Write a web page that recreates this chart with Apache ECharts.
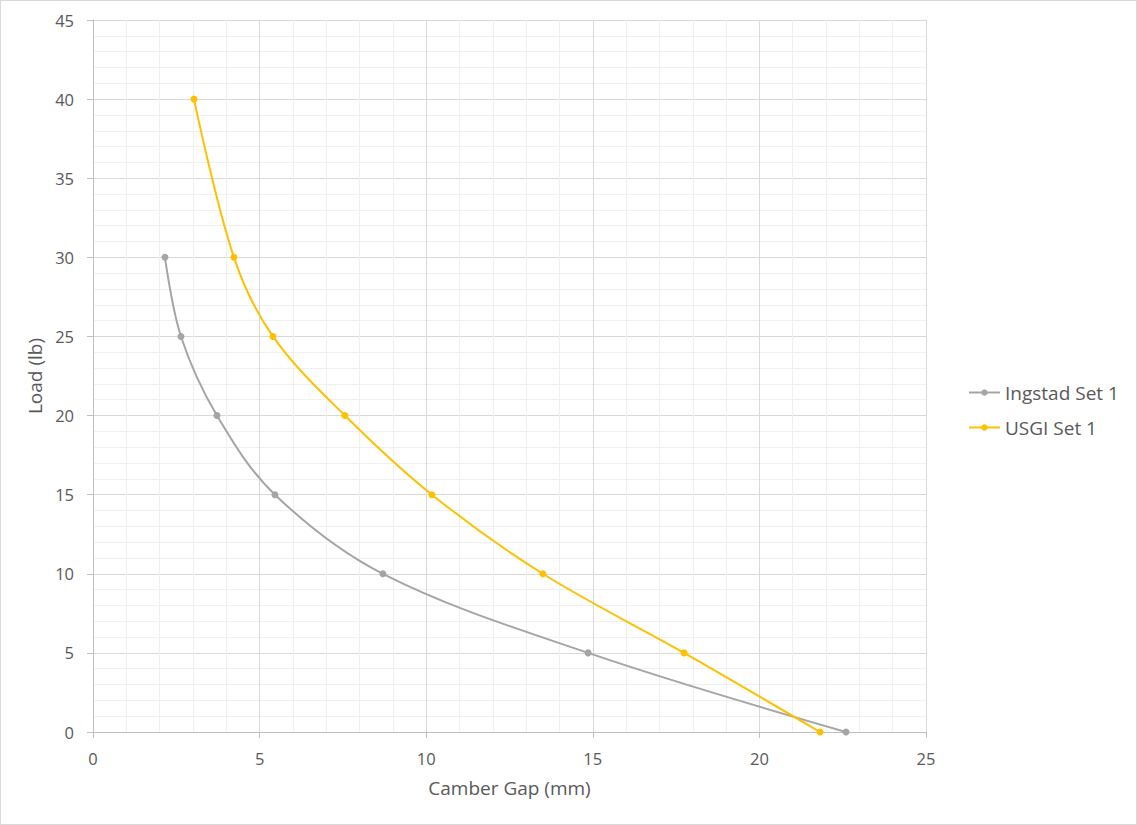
<!DOCTYPE html>
<html>
<head>
<meta charset="utf-8">
<script src="https://cdn.jsdelivr.net/npm/echarts@6/dist/echarts.min.js"></script>
<style>
  html, body { margin: 0; padding: 0; background: #fff; }
  #chart { width: 1137px; height: 825px; box-sizing: border-box; border: 1px solid #d9d9d9; }
</style>
</head>
<body>
<div id="chart"></div>
<script>
// values
const ingstadGap  = [22.6, 14.86, 8.7, 5.46, 3.72, 2.64, 2.16];
const ingstadLoad = [0, 5, 10, 15, 20, 25, 30];
const usgiGap  = [21.82, 17.74, 13.5, 10.17, 7.56, 5.4, 4.23, 3.03];
const usgiLoad = [0, 5, 10, 15, 20, 25, 30, 40];

const GRAY = '#A5A5A5';
const GOLD = '#FFC000';
const FONT = 'Open Sans';

const pairs = (xs, ys) => xs.map((x, i) => [x, ys[i]]);

const AXIS = {
  axisLine:  { lineStyle: { color: '#BFBFBF', width: 1 } },
  axisTick:  { show: true, length: 6, lineStyle: { color: '#BFBFBF' } },
  axisLabel: { color: '#595959', fontFamily: FONT, fontSize: 16.5 },
  splitLine: { show: true, lineStyle: { color: '#D9D9D9', width: 1 } },
  minorTick: { show: false, splitNumber: 5 },
  minorSplitLine: { show: true, lineStyle: { color: '#F0F0F0', width: 1 } },
  nameTextStyle: { color: '#595959', fontFamily: FONT, fontSize: 19 },
};

const c = echarts.init(document.getElementById('chart'), null, { renderer: 'svg' });
c.setOption({
  animation: false,
  grid: { left: 92, right: 210, top: 19, bottom: 92 },
  legend: {
    orient: 'vertical', left: 962, top: 377, itemGap: 16,
    itemWidth: 31, itemHeight: 8,
    textStyle: { color: '#595959', fontFamily: FONT, fontSize: 19 },
    data: ['Ingstad Set 1', 'USGI Set 1'],
  },
  xAxis: {
    ...AXIS, type: 'value', min: 0, max: 25, interval: 5,
    name: 'Camber Gap (mm)', nameLocation: 'middle', nameGap: 46,
    axisLabel: { ...AXIS.axisLabel, margin: 18 },
  },
  yAxis: {
    ...AXIS, type: 'value', min: 0, max: 45, interval: 5,
    name: 'Load (lb)', nameLocation: 'middle', nameGap: 46,
    axisLabel: { ...AXIS.axisLabel, margin: 19 },
  },
  series: [
    {
      name: 'Ingstad Set 1', type: 'line', smooth: 0.35,
      data: pairs(ingstadGap, ingstadLoad),
      symbol: 'circle', symbolSize: 7,
      itemStyle: { color: GRAY },
      lineStyle: { color: GRAY, width: 2 },
    },
    {
      name: 'USGI Set 1', type: 'line', smooth: 0.35,
      data: pairs(usgiGap, usgiLoad),
      symbol: 'circle', symbolSize: 7,
      itemStyle: { color: GOLD },
      lineStyle: { color: GOLD, width: 2 },
    },
  ],
});
</script>
</body>
</html>
